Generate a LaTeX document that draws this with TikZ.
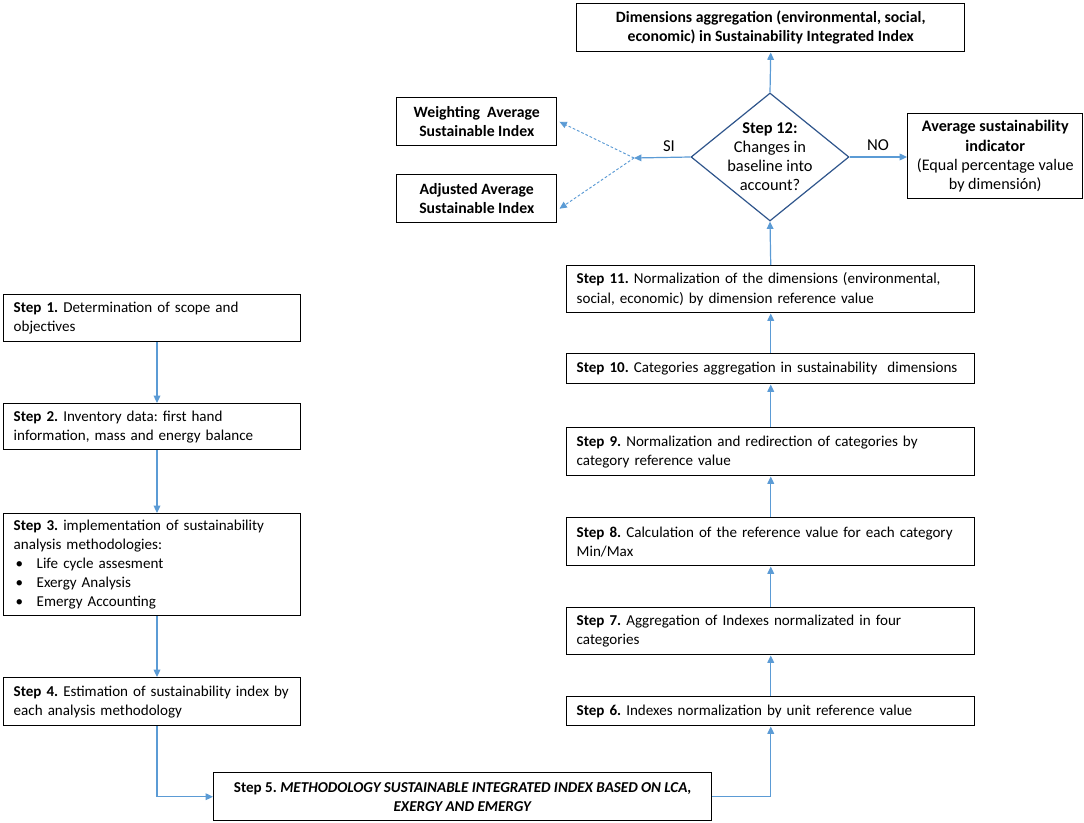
\documentclass[tikz,border=0pt]{standalone}
\usepackage{fontspec}
\setmainfont{Carlito}
\usetikzlibrary{arrows.meta,shapes.geometric,calc}
\definecolor{arrblue}{RGB}{91,155,213}
\definecolor{dblue}{RGB}{47,85,140}
\frenchspacing
\begin{document}
\begin{tikzpicture}[x=0.75pt,y=-0.75pt, font=\fontsize{11.3}{14.3}\selectfont,
  box/.style={draw=black,line width=1.1pt,anchor=north west,inner xsep=7.5pt,inner ysep=0pt,align=left},
  cbox/.style={draw=black,line width=1.1pt,anchor=north west,inner xsep=3pt,inner ysep=0pt,align=center},
  bigtxt/.style={font=\fontsize{11.8}{14.3}\selectfont},
  lbox/.style={box,minimum width=222.75pt,text width=207.75pt},
  rbox/.style={box,minimum width=306pt,text width=291pt},
  arr/.style={draw=arrblue,line width=0.9pt,-{Triangle[length=5.5pt,width=5pt]}},
  darr/.style={arr,dash pattern=on 2pt off 1.5pt,line width=0.7pt},
  lbl/.style={inner sep=0pt,font=\fontsize{12.5}{14}\selectfont}
]
\useasboundingbox (0,0) rectangle (1084,823);
\fill[white] (0,0) rectangle (1084,823);

% left column
\node[lbox,minimum height=35.25pt] (s1) at (3,294) {\textbf{Step 1.} Determination of scope and\\objectives};
\node[lbox,minimum height=34.5pt] (s2) at (3,403) {\textbf{Step 2.} Inventory data: first hand\\information, mass and energy balance};
\node[lbox,minimum height=76.5pt] (s3) at (3,513) {\textbf{Step 3.} implementation of sustainability\\analysis methodologies:\\\hspace*{1.5pt}\makebox[15.75pt][l]{\textbullet}Life cycle assesment\\\hspace*{1.5pt}\makebox[15.75pt][l]{\textbullet}Exergy Analysis\\\hspace*{1.5pt}\makebox[15.75pt][l]{\textbullet}Emergy Accounting};
\node[lbox,minimum height=36pt] (s4) at (3,677) {\textbf{Step 4.} Estimation of sustainability index by\\each analysis methodology};

% step 5
\node[cbox,minimum width=373.5pt,minimum height=36pt] (s5) at (213,772) {\textbf{Step 5. \textit{METHODOLOGY SUSTAINABLE INTEGRATED INDEX BASED ON LCA,}}\\\textbf{\textit{EXERGY AND EMERGY}}};

% right column
\node[rbox,minimum height=21.75pt] (s6) at (566,696) {\textbf{Step 6.} Indexes normalization by unit reference value};
\node[rbox,minimum height=35.25pt] (s7) at (566,607) {\textbf{Step 7.} Aggregation of Indexes normalizated in four\\categories};
\node[rbox,minimum height=36pt] (s8) at (566,517) {\textbf{Step 8.} Calculation of the reference value for each category\\Min/Max};
\node[rbox,minimum height=36pt] (s9) at (566,427) {\textbf{Step 9.} Normalization and redirection of categories by\\category reference value};
\node[rbox,minimum height=22.5pt] (s10) at (566,353) {\textbf{Step 10.} Categories aggregation in sustainability\ \ dimensions};
\node[rbox,minimum height=35.25pt] (s11) at (566,265) {\textbf{Step 11.} Normalization of the dimensions (environmental,\\social, economic) by dimension reference value};

% top part
\node[cbox,bigtxt,minimum width=291pt,minimum height=36pt] (top) at (576,3) {\textbf{Dimensions aggregation (environmental, social,}\\\textbf{economic) in Sustainability Integrated Index}};
\node[diamond,draw=dblue,line width=0.9pt,minimum width=118.5pt,minimum height=96pt,inner sep=0pt] (d) at (770,157) {};
\node[align=center,inner sep=0pt,font=\fontsize{12.3}{14.3}\selectfont] (dtext) at (770,157) {\textbf{Step 12:}\\Changes in\\baseline into\\account?};
\node[cbox,bigtxt,minimum width=120pt,minimum height=36pt] (w) at (396,97) {\textbf{Weighting\ \ Average}\\\textbf{Sustainable Index}};
\node[cbox,bigtxt,minimum width=120pt,minimum height=36pt] (a) at (396,174) {\textbf{Adjusted Average}\\\textbf{Sustainable Index}};
\node[cbox,minimum width=131.25pt,minimum height=63.75pt,font=\fontsize{12.1}{14.3}\selectfont] (avg) at (907,113) {\textbf{Average sustainability}\\\textbf{indicator}\\(Equal percentage value\\by dimensión)};
\node[lbl] (si) at (669,146) {SI};
\node[lbl] (no) at (878,145) {NO};

% connectors
\coordinate (lx) at (157,0);
\draw[arr] (s1.south -| lx) -- (s2.north -| lx);
\draw[arr] (s2.south -| lx) -- (s3.north -| lx);
\draw[arr] (s3.south -| lx) -- (s4.north -| lx);
\draw[arr] (s4.south -| lx) |- (s5.west);
\draw[arr] (s5.east) -| (s6.south);
\draw[arr] (s6.north) -- (s7.south);
\draw[arr] (s7.north) -- (s8.south);
\draw[arr] (s8.north) -- (s9.south);
\draw[arr] (s9.north) -- (s10.south);
\draw[arr] (s10.north) -- (s11.south);
\draw[arr] (s11.north) -- (d.south);
\draw[arr] (d.north) -- (top.south);
\draw[arr] (d.east) -- (d.east -| avg.west);
\coordinate (split) at (634,158);
\draw[arr] (d.west) -- (split);
\draw[darr] (split) -- ($(w.east)+(2,0)$);
\draw[darr] (split) -- ($(a.east)+(2,10)$);
\end{tikzpicture}
\end{document}
